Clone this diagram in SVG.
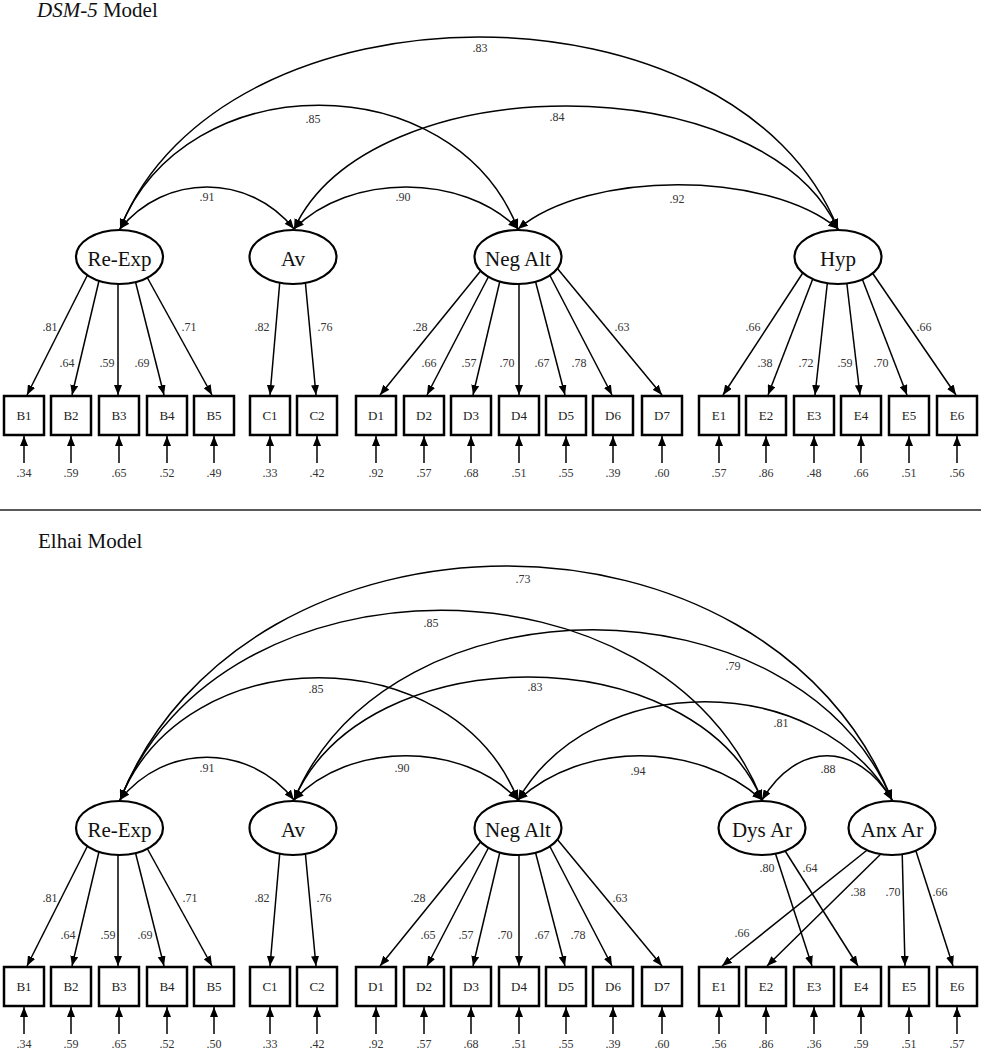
<svg xmlns="http://www.w3.org/2000/svg" width="982" height="1050" viewBox="0 0 982 1050">
<style>
.t{font-family:"Liberation Serif",serif;fill:#111}
.n{font-family:"Liberation Serif",serif;font-size:12px;fill:#333;text-anchor:middle}
.bx{font-family:"Liberation Serif",serif;font-size:13px;fill:#222;text-anchor:middle}
.el{font-family:"Liberation Serif",serif;font-size:21px;fill:#111;text-anchor:middle}
.arc{fill:none;stroke:#000;stroke-width:1.5;marker-start:url(#ah);marker-end:url(#ah)}
.ld{fill:none;stroke:#000;stroke-width:1.5;marker-end:url(#ah)}
.box{fill:#fff;stroke:#000;stroke-width:2.5}
.ell{fill:#fff;stroke:#000;stroke-width:2.2}
</style>
<defs>
<marker id="ah" viewBox="0 0 10 8" markerUnits="userSpaceOnUse" markerWidth="10" markerHeight="8" refX="10" refY="4" orient="auto-start-reverse">
<path d="M0,0 L10,4 L0,8 z" fill="#000"/>
</marker>
</defs>
<rect width="982" height="1050" fill="#fff"/>
<text class="t" x="37" y="17" font-size="21"><tspan font-style="italic">DSM-5</tspan> Model</text>
<line x1="0" y1="510" x2="981" y2="510" stroke="#222" stroke-width="1.5"/>
<text class="t" x="38" y="548" font-size="21">Elhai Model</text>

<g id="connectors">
<!-- top covariances -->
<path class="arc" d="M120,229 C165,173 249,173 294,229"/>
<path class="arc" d="M294,229 C349,173 463,173 518,229"/>
<path class="arc" d="M518,229 C588,170 768,170 838,229"/>
<path class="arc" d="M120,229 C185,64 453,64 518,229"/>
<path class="arc" d="M294,229 C370,65 762,65 838,229"/>
<path class="arc" d="M120,229 C222,-27 736,-27 838,229"/>
<!-- top loadings -->
<line class="ld" x1="91" y1="268" x2="27" y2="395"/>
<line class="ld" x1="102" y1="268" x2="72" y2="395"/>
<line class="ld" x1="118" y1="268" x2="118" y2="395"/>
<line class="ld" x1="132" y1="268" x2="164" y2="395"/>
<line class="ld" x1="142" y1="268" x2="212" y2="395"/>
<line class="ld" x1="281" y1="268" x2="270" y2="395"/>
<line class="ld" x1="304" y1="268" x2="316" y2="395"/>
<line class="ld" x1="483" y1="268" x2="380" y2="395"/>
<line class="ld" x1="493" y1="268" x2="427" y2="395"/>
<line class="ld" x1="503" y1="268" x2="473" y2="395"/>
<line class="ld" x1="519" y1="268" x2="519" y2="395"/>
<line class="ld" x1="532" y1="268" x2="565" y2="395"/>
<line class="ld" x1="546" y1="268" x2="612" y2="395"/>
<line class="ld" x1="557" y1="268" x2="662" y2="395"/>
<line class="ld" x1="806" y1="268" x2="723" y2="395"/>
<line class="ld" x1="817" y1="268" x2="768" y2="395"/>
<line class="ld" x1="829" y1="268" x2="815" y2="395"/>
<line class="ld" x1="845" y1="268" x2="860" y2="395"/>
<line class="ld" x1="858" y1="268" x2="907" y2="395"/>
<line class="ld" x1="869" y1="268" x2="956" y2="395"/>
<!-- top errors -->
<line class="ld" x1="24" y1="463" x2="24" y2="436"/>
<line class="ld" x1="71" y1="463" x2="71" y2="436"/>
<line class="ld" x1="119" y1="463" x2="119" y2="436"/>
<line class="ld" x1="167" y1="463" x2="167" y2="436"/>
<line class="ld" x1="214" y1="463" x2="214" y2="436"/>
<line class="ld" x1="270" y1="463" x2="270" y2="436"/>
<line class="ld" x1="317" y1="463" x2="317" y2="436"/>
<line class="ld" x1="376" y1="463" x2="376" y2="436"/>
<line class="ld" x1="424" y1="463" x2="424" y2="436"/>
<line class="ld" x1="471" y1="463" x2="471" y2="436"/>
<line class="ld" x1="519" y1="463" x2="519" y2="436"/>
<line class="ld" x1="566" y1="463" x2="566" y2="436"/>
<line class="ld" x1="613" y1="463" x2="613" y2="436"/>
<line class="ld" x1="662" y1="463" x2="662" y2="436"/>
<line class="ld" x1="719" y1="463" x2="719" y2="436"/>
<line class="ld" x1="766" y1="463" x2="766" y2="436"/>
<line class="ld" x1="814" y1="463" x2="814" y2="436"/>
<line class="ld" x1="861" y1="463" x2="861" y2="436"/>
<line class="ld" x1="909" y1="463" x2="909" y2="436"/>
<line class="ld" x1="957" y1="463" x2="957" y2="436"/>

<!-- bottom covariances -->
<path class="arc" d="M120,800 C165,743 249,743 294,800"/>
<path class="arc" d="M294,800 C349,741 463,741 518,800"/>
<path class="arc" d="M518,800 C583,741 697,741 762,800"/>
<path class="arc" d="M762,800 C797,741 857,741 892,800"/>
<path class="arc" d="M120,800 C185,637 453,637 518,800"/>
<path class="arc" d="M294,800 C364,636 692,636 762,800"/>
<path class="arc" d="M518,800 C593,669 817,669 892,800"/>
<path class="arc" d="M120,800 C220,547 662,547 762,800"/>
<path class="arc" d="M294,800 C389,573 797,573 892,800"/>
<path class="arc" d="M120,800 C245,488 767,488 892,800"/>
<!-- bottom loadings -->
<line class="ld" x1="91" y1="839" x2="27" y2="966"/>
<line class="ld" x1="102" y1="839" x2="72" y2="966"/>
<line class="ld" x1="118" y1="839" x2="118" y2="966"/>
<line class="ld" x1="132" y1="839" x2="164" y2="966"/>
<line class="ld" x1="142" y1="839" x2="212" y2="966"/>
<line class="ld" x1="281" y1="839" x2="270" y2="966"/>
<line class="ld" x1="304" y1="839" x2="316" y2="966"/>
<line class="ld" x1="483" y1="839" x2="380" y2="966"/>
<line class="ld" x1="493" y1="839" x2="427" y2="966"/>
<line class="ld" x1="503" y1="839" x2="473" y2="966"/>
<line class="ld" x1="519" y1="839" x2="519" y2="966"/>
<line class="ld" x1="532" y1="839" x2="565" y2="966"/>
<line class="ld" x1="546" y1="839" x2="612" y2="966"/>
<line class="ld" x1="557" y1="839" x2="662" y2="966"/>
<line class="ld" x1="773" y1="846" x2="812" y2="966"/>
<line class="ld" x1="782" y1="846" x2="858" y2="966"/>
<line class="ld" x1="876" y1="843" x2="722" y2="966"/>
<line class="ld" x1="890" y1="845" x2="767" y2="966"/>
<line class="ld" x1="902" y1="845" x2="905" y2="966"/>
<line class="ld" x1="914" y1="845" x2="953" y2="966"/>
<!-- bottom errors -->
<line class="ld" x1="24" y1="1034" x2="24" y2="1007"/>
<line class="ld" x1="71" y1="1034" x2="71" y2="1007"/>
<line class="ld" x1="119" y1="1034" x2="119" y2="1007"/>
<line class="ld" x1="167" y1="1034" x2="167" y2="1007"/>
<line class="ld" x1="214" y1="1034" x2="214" y2="1007"/>
<line class="ld" x1="270" y1="1034" x2="270" y2="1007"/>
<line class="ld" x1="317" y1="1034" x2="317" y2="1007"/>
<line class="ld" x1="376" y1="1034" x2="376" y2="1007"/>
<line class="ld" x1="424" y1="1034" x2="424" y2="1007"/>
<line class="ld" x1="471" y1="1034" x2="471" y2="1007"/>
<line class="ld" x1="519" y1="1034" x2="519" y2="1007"/>
<line class="ld" x1="566" y1="1034" x2="566" y2="1007"/>
<line class="ld" x1="613" y1="1034" x2="613" y2="1007"/>
<line class="ld" x1="662" y1="1034" x2="662" y2="1007"/>
<line class="ld" x1="719" y1="1034" x2="719" y2="1007"/>
<line class="ld" x1="766" y1="1034" x2="766" y2="1007"/>
<line class="ld" x1="814" y1="1034" x2="814" y2="1007"/>
<line class="ld" x1="861" y1="1034" x2="861" y2="1007"/>
<line class="ld" x1="909" y1="1034" x2="909" y2="1007"/>
<line class="ld" x1="957" y1="1034" x2="957" y2="1007"/>
</g>

<g id="labels">
<text class="n" x="480" y="52">.83</text>
<text class="n" x="313" y="123">.85</text>
<text class="n" x="557" y="121">.84</text>
<text class="n" x="207" y="201">.91</text>
<text class="n" x="403" y="201">.90</text>
<text class="n" x="677" y="203">.92</text>
<text class="n" x="50" y="331">.81</text>
<text class="n" x="67" y="367">.64</text>
<text class="n" x="107" y="367">.59</text>
<text class="n" x="142" y="367">.69</text>
<text class="n" x="189" y="331">.71</text>
<text class="n" x="262" y="331">.82</text>
<text class="n" x="325" y="331">.76</text>
<text class="n" x="420" y="331">.28</text>
<text class="n" x="429" y="367">.66</text>
<text class="n" x="469" y="367">.57</text>
<text class="n" x="507" y="367">.70</text>
<text class="n" x="542" y="367">.67</text>
<text class="n" x="579" y="367">.78</text>
<text class="n" x="622" y="331">.63</text>
<text class="n" x="753" y="331">.66</text>
<text class="n" x="765" y="367">.38</text>
<text class="n" x="806" y="367">.72</text>
<text class="n" x="845" y="367">.59</text>
<text class="n" x="881" y="367">.70</text>
<text class="n" x="924" y="331">.66</text>
<text class="n" x="24" y="477">.34</text>
<text class="n" x="71" y="477">.59</text>
<text class="n" x="119" y="477">.65</text>
<text class="n" x="167" y="477">.52</text>
<text class="n" x="214" y="477">.49</text>
<text class="n" x="270" y="477">.33</text>
<text class="n" x="317" y="477">.42</text>
<text class="n" x="376" y="477">.92</text>
<text class="n" x="424" y="477">.57</text>
<text class="n" x="471" y="477">.68</text>
<text class="n" x="519" y="477">.51</text>
<text class="n" x="566" y="477">.55</text>
<text class="n" x="613" y="477">.39</text>
<text class="n" x="662" y="477">.60</text>
<text class="n" x="719" y="477">.57</text>
<text class="n" x="766" y="477">.86</text>
<text class="n" x="814" y="477">.48</text>
<text class="n" x="861" y="477">.66</text>
<text class="n" x="909" y="477">.51</text>
<text class="n" x="957" y="477">.56</text>

<text class="n" x="523" y="583">.73</text>
<text class="n" x="431" y="627">.85</text>
<text class="n" x="733" y="670">.79</text>
<text class="n" x="316" y="693">.85</text>
<text class="n" x="535" y="691">.83</text>
<text class="n" x="781" y="727">.81</text>
<text class="n" x="207" y="772">.91</text>
<text class="n" x="402" y="772">.90</text>
<text class="n" x="638" y="775">.94</text>
<text class="n" x="828" y="773">.88</text>
<text class="n" x="50" y="902">.81</text>
<text class="n" x="68" y="939">.64</text>
<text class="n" x="108" y="939">.59</text>
<text class="n" x="145" y="939">.69</text>
<text class="n" x="190" y="902">.71</text>
<text class="n" x="262" y="902">.82</text>
<text class="n" x="324" y="902">.76</text>
<text class="n" x="418" y="902">.28</text>
<text class="n" x="428" y="939">.65</text>
<text class="n" x="466" y="939">.57</text>
<text class="n" x="505" y="939">.70</text>
<text class="n" x="542" y="939">.67</text>
<text class="n" x="578" y="939">.78</text>
<text class="n" x="620" y="902">.63</text>
<text class="n" x="767" y="872">.80</text>
<text class="n" x="810" y="872">.64</text>
<text class="n" x="858" y="896">.38</text>
<text class="n" x="893" y="896">.70</text>
<text class="n" x="940" y="896">.66</text>
<text class="n" x="742" y="937">.66</text>
<text class="n" x="24" y="1048">.34</text>
<text class="n" x="71" y="1048">.59</text>
<text class="n" x="119" y="1048">.65</text>
<text class="n" x="167" y="1048">.52</text>
<text class="n" x="214" y="1048">.50</text>
<text class="n" x="270" y="1048">.33</text>
<text class="n" x="317" y="1048">.42</text>
<text class="n" x="376" y="1048">.92</text>
<text class="n" x="424" y="1048">.57</text>
<text class="n" x="471" y="1048">.68</text>
<text class="n" x="519" y="1048">.51</text>
<text class="n" x="566" y="1048">.55</text>
<text class="n" x="613" y="1048">.39</text>
<text class="n" x="662" y="1048">.60</text>
<text class="n" x="719" y="1048">.56</text>
<text class="n" x="766" y="1048">.86</text>
<text class="n" x="814" y="1048">.36</text>
<text class="n" x="861" y="1048">.59</text>
<text class="n" x="909" y="1048">.51</text>
<text class="n" x="957" y="1048">.57</text>
</g>

<!-- top latent nodes -->
<g id="t-reexp"><ellipse class="ell" cx="119.5" cy="257" rx="43.5" ry="27"/><text class="el" x="119.5" y="266">Re-Exp</text></g>
<g id="t-av"><ellipse class="ell" cx="293" cy="257" rx="43.5" ry="27"/><text class="el" x="293" y="266">Av</text></g>
<g id="t-negalt"><ellipse class="ell" cx="518" cy="257" rx="43.5" ry="27"/><text class="el" x="518" y="266">Neg Alt</text></g>
<g id="t-hyp"><ellipse class="ell" cx="838" cy="257" rx="43.5" ry="27"/><text class="el" x="838" y="266">Hyp</text></g>
<!-- top indicators -->
<g id="t-B1"><rect class="box" x="4" y="396" width="40" height="39"/><text class="bx" x="24" y="420">B1</text></g>
<g id="t-B2"><rect class="box" x="51" y="396" width="40" height="39"/><text class="bx" x="71" y="420">B2</text></g>
<g id="t-B3"><rect class="box" x="99" y="396" width="40" height="39"/><text class="bx" x="119" y="420">B3</text></g>
<g id="t-B4"><rect class="box" x="147" y="396" width="40" height="39"/><text class="bx" x="167" y="420">B4</text></g>
<g id="t-B5"><rect class="box" x="194" y="396" width="40" height="39"/><text class="bx" x="214" y="420">B5</text></g>
<g id="t-C1"><rect class="box" x="250" y="396" width="40" height="39"/><text class="bx" x="270" y="420">C1</text></g>
<g id="t-C2"><rect class="box" x="297" y="396" width="40" height="39"/><text class="bx" x="317" y="420">C2</text></g>
<g id="t-D1"><rect class="box" x="356" y="396" width="40" height="39"/><text class="bx" x="376" y="420">D1</text></g>
<g id="t-D2"><rect class="box" x="404" y="396" width="40" height="39"/><text class="bx" x="424" y="420">D2</text></g>
<g id="t-D3"><rect class="box" x="451" y="396" width="40" height="39"/><text class="bx" x="471" y="420">D3</text></g>
<g id="t-D4"><rect class="box" x="499" y="396" width="40" height="39"/><text class="bx" x="519" y="420">D4</text></g>
<g id="t-D5"><rect class="box" x="546" y="396" width="40" height="39"/><text class="bx" x="566" y="420">D5</text></g>
<g id="t-D6"><rect class="box" x="593" y="396" width="40" height="39"/><text class="bx" x="613" y="420">D6</text></g>
<g id="t-D7"><rect class="box" x="642" y="396" width="40" height="39"/><text class="bx" x="662" y="420">D7</text></g>
<g id="t-E1"><rect class="box" x="699" y="396" width="40" height="39"/><text class="bx" x="719" y="420">E1</text></g>
<g id="t-E2"><rect class="box" x="746" y="396" width="40" height="39"/><text class="bx" x="766" y="420">E2</text></g>
<g id="t-E3"><rect class="box" x="794" y="396" width="40" height="39"/><text class="bx" x="814" y="420">E3</text></g>
<g id="t-E4"><rect class="box" x="841" y="396" width="40" height="39"/><text class="bx" x="861" y="420">E4</text></g>
<g id="t-E5"><rect class="box" x="889" y="396" width="40" height="39"/><text class="bx" x="909" y="420">E5</text></g>
<g id="t-E6"><rect class="box" x="937" y="396" width="40" height="39"/><text class="bx" x="957" y="420">E6</text></g>

<!-- bottom latent nodes -->
<g id="b-reexp"><ellipse class="ell" cx="119.5" cy="828" rx="43.5" ry="27"/><text class="el" x="119.5" y="837">Re-Exp</text></g>
<g id="b-av"><ellipse class="ell" cx="293" cy="828" rx="43.5" ry="27"/><text class="el" x="293" y="837">Av</text></g>
<g id="b-negalt"><ellipse class="ell" cx="518" cy="828" rx="43.5" ry="27"/><text class="el" x="518" y="837">Neg Alt</text></g>
<g id="b-dysar"><ellipse class="ell" cx="762" cy="828" rx="43.5" ry="27"/><text class="el" x="762" y="837">Dys Ar</text></g>
<g id="b-anxar"><ellipse class="ell" cx="892" cy="828" rx="43.5" ry="27"/><text class="el" x="892" y="837">Anx Ar</text></g>
<!-- bottom indicators -->
<g id="b-B1"><rect class="box" x="4" y="967" width="40" height="39"/><text class="bx" x="24" y="991">B1</text></g>
<g id="b-B2"><rect class="box" x="51" y="967" width="40" height="39"/><text class="bx" x="71" y="991">B2</text></g>
<g id="b-B3"><rect class="box" x="99" y="967" width="40" height="39"/><text class="bx" x="119" y="991">B3</text></g>
<g id="b-B4"><rect class="box" x="147" y="967" width="40" height="39"/><text class="bx" x="167" y="991">B4</text></g>
<g id="b-B5"><rect class="box" x="194" y="967" width="40" height="39"/><text class="bx" x="214" y="991">B5</text></g>
<g id="b-C1"><rect class="box" x="250" y="967" width="40" height="39"/><text class="bx" x="270" y="991">C1</text></g>
<g id="b-C2"><rect class="box" x="297" y="967" width="40" height="39"/><text class="bx" x="317" y="991">C2</text></g>
<g id="b-D1"><rect class="box" x="356" y="967" width="40" height="39"/><text class="bx" x="376" y="991">D1</text></g>
<g id="b-D2"><rect class="box" x="404" y="967" width="40" height="39"/><text class="bx" x="424" y="991">D2</text></g>
<g id="b-D3"><rect class="box" x="451" y="967" width="40" height="39"/><text class="bx" x="471" y="991">D3</text></g>
<g id="b-D4"><rect class="box" x="499" y="967" width="40" height="39"/><text class="bx" x="519" y="991">D4</text></g>
<g id="b-D5"><rect class="box" x="546" y="967" width="40" height="39"/><text class="bx" x="566" y="991">D5</text></g>
<g id="b-D6"><rect class="box" x="593" y="967" width="40" height="39"/><text class="bx" x="613" y="991">D6</text></g>
<g id="b-D7"><rect class="box" x="642" y="967" width="40" height="39"/><text class="bx" x="662" y="991">D7</text></g>
<g id="b-E1"><rect class="box" x="699" y="967" width="40" height="39"/><text class="bx" x="719" y="991">E1</text></g>
<g id="b-E2"><rect class="box" x="746" y="967" width="40" height="39"/><text class="bx" x="766" y="991">E2</text></g>
<g id="b-E3"><rect class="box" x="794" y="967" width="40" height="39"/><text class="bx" x="814" y="991">E3</text></g>
<g id="b-E4"><rect class="box" x="841" y="967" width="40" height="39"/><text class="bx" x="861" y="991">E4</text></g>
<g id="b-E5"><rect class="box" x="889" y="967" width="40" height="39"/><text class="bx" x="909" y="991">E5</text></g>
<g id="b-E6"><rect class="box" x="937" y="967" width="40" height="39"/><text class="bx" x="957" y="991">E6</text></g>
</svg>
